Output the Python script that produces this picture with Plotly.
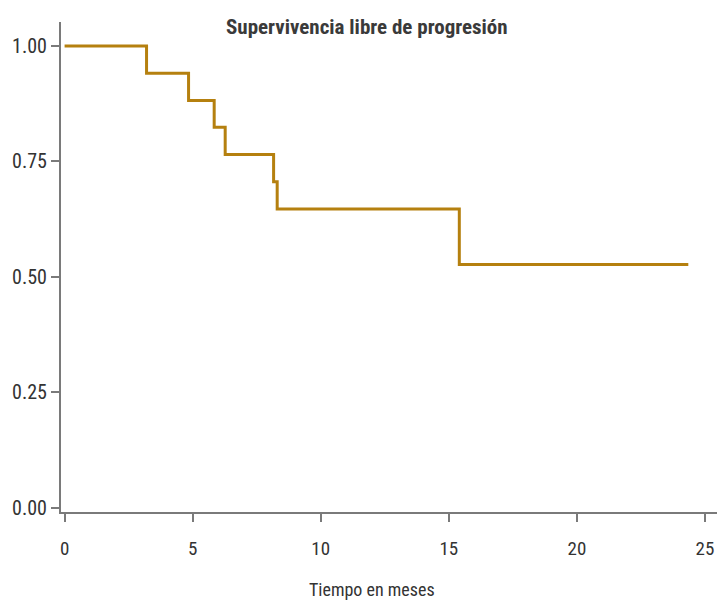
import plotly.graph_objects as go

# Kaplan-Meier step data
times = [0, 3.2, 4.84, 5.84, 6.27, 8.16, 8.3, 15.41, 24.35]
surv = [1.0, 0.941, 0.882, 0.824, 0.765, 0.706, 0.647, 0.527, 0.527]

x_ticks = [0, 5, 10, 15, 20, 25]
y_ticks = [0.0, 0.25, 0.5, 0.75, 1.0]
y_tick_labels = ["0.00", "0.25", "0.50", "0.75", "1.00"]

title_text = "Supervivencia libre de progresión"
x_title = "Tiempo en meses"

FONT = "Roboto Condensed, Liberation Sans Narrow, Roboto, Arial"
axis_col = "#7a7a7a"
line_col = "#B5800F"

fig = go.Figure()
fig.add_trace(go.Scatter(
    x=times, y=surv, mode="lines", line=dict(shape="hv", color=line_col, width=3),
    showlegend=False, hoverinfo="x+y"))

fig.update_layout(
    width=717, height=601,
    margin=dict(l=61, r=0, t=22, b=89),
    paper_bgcolor="white", plot_bgcolor="white",
    font=dict(family=FONT, size=18, color="#333333"),
    xaxis=dict(range=[-0.14, 25.47], tickvals=x_ticks, showgrid=False, zeroline=False,
               showline=True, linecolor=axis_col, linewidth=2,
               ticks="outside", ticklen=8, tickwidth=2, tickcolor=axis_col,
               ticklabelstandoff=10, tickfont=dict(size=19)),
    yaxis=dict(range=[-0.009, 1.052], tickvals=y_ticks, ticktext=y_tick_labels,
               showgrid=False, zeroline=False,
               showline=True, linecolor=axis_col, linewidth=2,
               ticks="outside", ticklen=8, tickwidth=2, tickcolor=axis_col,
               tickfont=dict(size=20)),
    annotations=[
        dict(text="<b>" + title_text + "</b>", xref="paper", yref="paper",
             x=0.467, y=0.99, xanchor="center", yanchor="middle", showarrow=False,
             font=dict(family=FONT, size=21, color="#3a3a3a")),
        dict(text=x_title, xref="paper", yref="paper",
             x=0.474, y=-0.159, xanchor="center", yanchor="middle", showarrow=False,
             font=dict(family=FONT, size=18, color="#333333")),
    ],
)

fig.write_html(
    "out.html",
    config={"displayModeBar": False},
    post_script="document.body.style.margin='0';document.body.style.overflow='hidden';",
)
